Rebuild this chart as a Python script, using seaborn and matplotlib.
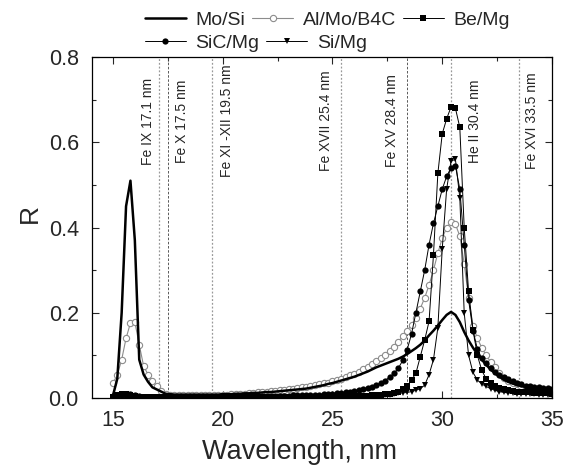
"""Reflectivity of multilayer mirrors vs wavelength, with solar lines marked."""

import matplotlib
matplotlib.use("Agg")
import matplotlib.pyplot as plt
import seaborn as sns
import numpy as np
from matplotlib.ticker import MultipleLocator, FormatStrFormatter

# sampling grid of the curves, nm
wavelength = np.round(np.arange(15.0, 35.001, 0.2), 1)

mo_si = [
    0.005, 0.045, 0.200, 0.450, 0.510, 0.370, 0.090, 0.055, 0.038, 0.025,
    0.020, 0.015, 0.010, 0.009, 0.008,
    0.008, 0.008, 0.008, 0.008, 0.008, 0.008, 0.008, 0.008, 0.008, 0.008,
    0.009, 0.009, 0.009, 0.010, 0.010, 0.011, 0.011, 0.012, 0.012, 0.013,
    0.014, 0.014, 0.015, 0.016, 0.017, 0.018, 0.019, 0.020, 0.021, 0.022,
    0.024, 0.026, 0.028, 0.030, 0.033, 0.035, 0.038, 0.041, 0.044, 0.047,
    0.050, 0.054, 0.058, 0.062, 0.067, 0.072, 0.076, 0.080, 0.084, 0.088,
    0.092, 0.097, 0.103, 0.110, 0.117, 0.125, 0.135, 0.147, 0.158, 0.170,
    0.183, 0.195, 0.202, 0.195, 0.178, 0.155, 0.135, 0.118, 0.103, 0.090,
    0.078, 0.067, 0.058, 0.050, 0.043, 0.038, 0.034, 0.031, 0.028, 0.026,
    0.024, 0.022, 0.021, 0.019, 0.018, 0.017,
]

al_mo_b4c = [
    0.035, 0.054, 0.090, 0.140, 0.176, 0.178, 0.125, 0.075, 0.055, 0.040,
    0.028, 0.016, 0.010, 0.007, 0.006,
    0.006, 0.006, 0.006, 0.006, 0.006, 0.007, 0.007, 0.007, 0.007, 0.007,
    0.008, 0.008, 0.009, 0.009, 0.010, 0.010, 0.011, 0.012, 0.013, 0.014,
    0.015, 0.016, 0.017, 0.018, 0.019, 0.020, 0.022, 0.023, 0.025, 0.026,
    0.028, 0.030, 0.032, 0.034, 0.036, 0.039, 0.042, 0.045, 0.049, 0.053,
    0.057, 0.062, 0.067, 0.073, 0.079, 0.086, 0.093, 0.101, 0.110, 0.120,
    0.132, 0.145, 0.158, 0.172, 0.188, 0.210, 0.235, 0.265, 0.300, 0.340,
    0.375, 0.400, 0.412, 0.408, 0.380, 0.315, 0.235, 0.170, 0.140, 0.118,
    0.100, 0.085, 0.072, 0.058, 0.048, 0.041, 0.036, 0.032, 0.028, 0.025,
    0.022, 0.020, 0.019, 0.017, 0.016, 0.015,
]

be_mg = [
    0.003, 0.006, 0.009, 0.010, 0.008, 0.005, 0.003, 0.002, 0.002, 0.002,
    0.002, 0.002, 0.002, 0.002, 0.002,
    0.002, 0.002, 0.002, 0.002, 0.002, 0.002, 0.002, 0.002, 0.002, 0.002,
    0.002, 0.002, 0.002, 0.002, 0.002, 0.002, 0.002, 0.002, 0.002, 0.002,
    0.002, 0.002, 0.002, 0.002, 0.002, 0.002, 0.002, 0.002, 0.002, 0.002,
    0.002, 0.002, 0.002, 0.002, 0.003, 0.003, 0.003, 0.003, 0.003, 0.003,
    0.004, 0.004, 0.005, 0.005, 0.006, 0.007, 0.008, 0.009, 0.010, 0.012,
    0.015, 0.020, 0.028, 0.042, 0.058, 0.097, 0.136, 0.180, 0.336, 0.527,
    0.620, 0.655, 0.683, 0.680, 0.635, 0.400, 0.250, 0.160, 0.100, 0.065,
    0.045, 0.035, 0.028, 0.023, 0.020, 0.018, 0.016, 0.015, 0.014, 0.013,
    0.013, 0.012, 0.012, 0.011, 0.011, 0.010,
]

sic_mg = [
    0.004, 0.007, 0.009, 0.010, 0.009, 0.006, 0.004, 0.003, 0.003, 0.003,
    0.003, 0.003, 0.003, 0.003, 0.003,
    0.003, 0.003, 0.003, 0.003, 0.003, 0.003, 0.003, 0.003, 0.003, 0.003,
    0.003, 0.003, 0.003, 0.003, 0.003, 0.004, 0.004, 0.004, 0.004, 0.004,
    0.004, 0.004, 0.005, 0.005, 0.005, 0.005, 0.006, 0.006, 0.006, 0.007,
    0.007, 0.008, 0.008, 0.009, 0.009, 0.010, 0.011, 0.012, 0.013, 0.014,
    0.016, 0.018, 0.020, 0.023, 0.026, 0.030, 0.035, 0.041, 0.049, 0.058,
    0.070, 0.088, 0.113, 0.150, 0.200, 0.250, 0.300, 0.360, 0.410, 0.450,
    0.490, 0.520, 0.540, 0.545, 0.490, 0.360, 0.230, 0.158, 0.115, 0.093,
    0.082, 0.070, 0.062, 0.055, 0.049, 0.044, 0.039, 0.035, 0.032, 0.029,
    0.027, 0.026, 0.025, 0.024, 0.023, 0.022,
]

si_mg = [
    0.001, 0.001, 0.001, 0.001, 0.001, 0.001, 0.001, 0.001, 0.001, 0.001,
    0.001, 0.001, 0.001, 0.001, 0.001,
    0.001, 0.001, 0.001, 0.001, 0.001, 0.001, 0.001, 0.001, 0.001, 0.001,
    0.001, 0.001, 0.001, 0.001, 0.001, 0.001, 0.001, 0.001, 0.001, 0.001,
    0.001, 0.001, 0.001, 0.001, 0.001, 0.002, 0.002, 0.002, 0.002, 0.002,
    0.002, 0.002, 0.002, 0.002, 0.002, 0.002, 0.002, 0.002, 0.003, 0.003,
    0.003, 0.003, 0.004, 0.004, 0.005, 0.005, 0.006, 0.007, 0.008, 0.010,
    0.011, 0.012, 0.013, 0.015, 0.018, 0.022, 0.030, 0.055, 0.090, 0.165,
    0.350, 0.490, 0.556, 0.560, 0.470, 0.200, 0.100, 0.060, 0.042, 0.033,
    0.027, 0.022, 0.018, 0.015, 0.013, 0.012, 0.011, 0.010, 0.010, 0.009,
    0.009, 0.009, 0.008, 0.008, 0.008, 0.008,
]

# solar emission lines
line_wl = [17.1, 17.5, 19.5, 25.4, 28.4, 30.4, 33.5]
line_names = ["Fe IX 17.1 nm", "Fe X 17.5 nm", "Fe XI -XII 19.5 nm",
              "Fe XVII 25.4 nm", "Fe XV 28.4 nm", "He II 30.4 nm",
              "Fe XVI 33.5 nm"]
# label offset from its line, points (negative = left)
line_text_dx = [-8, 10, 11, -11, -11, 17, 9]
line_dark = [False, True, False, False, True, False, False]

sns.set_style("ticks")
plt.rcParams["font.family"] = ["Liberation Sans", "DejaVu Sans"]

fig = plt.figure(figsize=(5.73, 4.68), dpi=100)
ax = fig.add_axes([0.1606, 0.1496, 0.8028, 0.7284])

for x, name, dx, dark in zip(line_wl, line_names, line_text_dx, line_dark):
    if dark:
        ax.axvline(x, color="0.25", lw=0.6, ls=(0, (3, 2)), zorder=1)
    else:
        ax.axvline(x, color="0.6", lw=0.9, ls=(0, (1.5, 1.5)), zorder=1)
    ax.annotate(name, xy=(x, 0.65), xytext=(dx, 0), textcoords="offset points",
                rotation=90, ha="center", va="center", fontsize=10)

sns.lineplot(x=wavelength, y=al_mo_b4c, ax=ax, color="0.55", lw=0.8,
             marker="o", markersize=4.5, markerfacecolor="white",
             markeredgecolor="0.55", markeredgewidth=0.8, label="Al/Mo/B4C")
sns.lineplot(x=wavelength, y=sic_mg, ax=ax, color="black", lw=0.7,
             marker="o", markersize=4.5, markeredgewidth=0, label="SiC/Mg")
sns.lineplot(x=wavelength, y=be_mg, ax=ax, color="black", lw=0.7,
             marker="s", markersize=4, markeredgewidth=0, label="Be/Mg")
sns.lineplot(x=wavelength, y=si_mg, ax=ax, color="black", lw=0.7,
             marker="v", markersize=5, markeredgewidth=0, label="Si/Mg")
sns.lineplot(x=wavelength, y=mo_si, ax=ax, color="black", lw=1.8,
             label="Mo/Si")

handles = dict(zip(ax.get_legend_handles_labels()[1],
                   ax.get_legend_handles_labels()[0]))
ax.get_legend().remove()

# two legend rows, each left-aligned, like the original
legend_rows = [["Mo/Si", "Al/Mo/B4C", "Be/Mg"], ["SiC/Mg", "Si/Mg"]]
for row, y in zip(legend_rows, [0.957, 0.908]):
    fig.legend([handles[k] for k in row], row, loc="center left",
               bbox_to_anchor=(0.253, y), ncol=len(row), frameon=False,
               fontsize=14, handlelength=2.1, handletextpad=0.5,
               columnspacing=0.35, borderpad=0, borderaxespad=0)

ax.set_xlim(14.05, 35)
ax.set_ylim(0, 0.8)
ax.xaxis.set_major_locator(MultipleLocator(5))
ax.xaxis.set_minor_locator(MultipleLocator(2.5))
ax.yaxis.set_major_locator(MultipleLocator(0.2))
ax.yaxis.set_minor_locator(MultipleLocator(0.1))
ax.yaxis.set_major_formatter(FormatStrFormatter("%.1f"))
ax.tick_params(which="both", direction="in", top=True, right=True,
               labelsize=15.5, width=0.8)
ax.tick_params(which="major", length=5)
ax.tick_params(which="minor", length=3)
ax.tick_params(axis="x", pad=9)
ax.tick_params(axis="y", pad=9.5)
for s in ax.spines.values():
    s.set_linewidth(0.9)
    s.set_color("black")

ax.set_xlabel("Wavelength, nm", fontsize=19.5)
ax.xaxis.set_label_coords(0.45, -0.12)
ax.set_ylabel("R", fontsize=19)
ax.yaxis.set_label_coords(-0.11, 0.54)

fig.savefig("out.png", dpi=100)
